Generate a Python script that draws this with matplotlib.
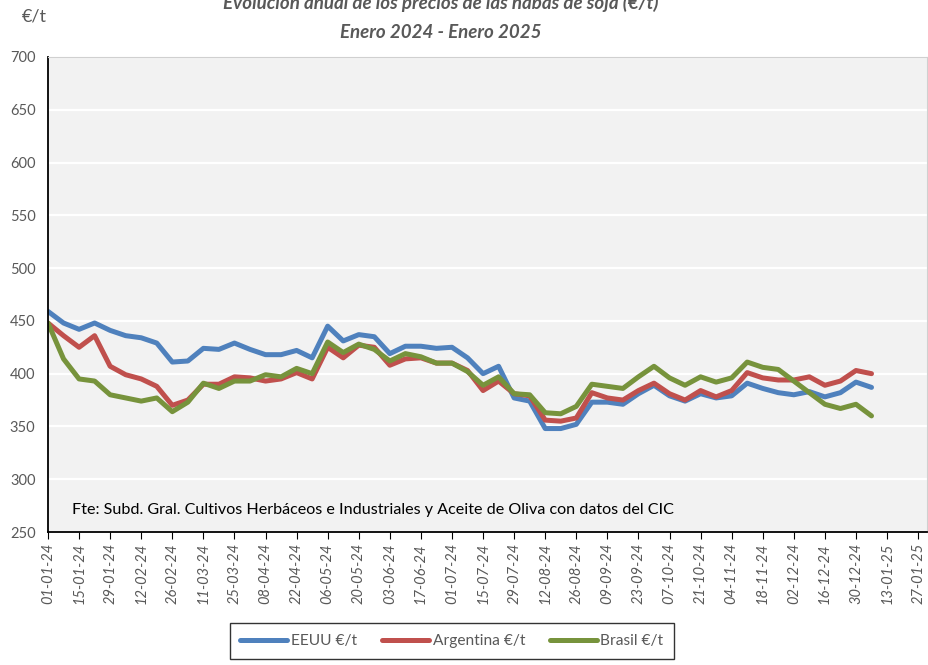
import numpy as np
import pandas as pd
import matplotlib
matplotlib.use('Agg')
import matplotlib.pyplot as plt

plt.rcParams['font.family'] = ['Lato', 'DejaVu Sans']

# weekly prices, €/t
fechas = pd.date_range('2024-01-01', periods=54, freq='7D')
eeuu = [459, 448, 442, 448, 441, 436, 434, 429, 411, 412, 424, 423, 429, 423, 418, 418,
        422, 415, 445, 431, 437, 435, 419, 426, 426, 424, 425, 415, 400, 407, 377, 374,
        348, 348, 352, 373, 373, 371, 381, 389, 379, 374, 381, 377, 379, 391, 386, 382,
        380, 383, 378, 382, 392, 387]
argentina = [448, 436, 425, 436, 407, 399, 395, 388, 370, 375, 390, 390, 397, 396, 393, 395,
             401, 395, 425, 415, 427, 425, 408, 414, 415, 410, 410, 403, 384, 393, 381, 379,
             356, 355, 358, 382, 377, 375, 384, 391, 381, 375, 384, 378, 384, 401, 396, 394,
             394, 397, 389, 393, 403, 400]
brasil = [448, 414, 395, 393, 380, 377, 374, 377, 364, 373, 391, 386, 393, 393, 399, 397,
          405, 400, 430, 420, 428, 423, 412, 419, 416, 410, 410, 402, 389, 397, 381, 380,
          363, 362, 369, 390, 388, 386, 397, 407, 396, 389, 397, 392, 396, 411, 406, 404,
          393, 382, 371, 367, 371, 360]

series = [('EEUU €/t', eeuu, '#4F81BD'),
          ('Argentina €/t', argentina, '#C0504D'),
          ('Brasil €/t', brasil, '#77933C')]

grey = '#595959'

fig = plt.figure(figsize=(9.29, 6.65), dpi=100)
ax = fig.add_axes([48 / 929, 1 - 532 / 665, 879 / 929, 475 / 665])
ax.set_facecolor('#F2F2F2')

for nombre, vals, color in series:
    ax.plot(fechas, vals, color=color, lw=3.6, label=nombre, solid_capstyle='round')

ax.set_ylim(250, 700)
ax.set_yticks(np.arange(250, 701, 50))
ax.yaxis.grid(True, color='white', lw=1.6)
ax.set_axisbelow(True)
ax.tick_params(axis='y', length=0, labelsize=10.5, labelcolor=grey, pad=9)

ax.set_xlim(pd.Timestamp('2024-01-01'), pd.Timestamp('2025-01-31'))
ticks = pd.date_range('2024-01-01', '2025-01-27', freq='14D')
ax.set_xticks(ticks)
ax.set_xticklabels([t.strftime('%d-%m-%y') for t in ticks], rotation=90,
                   fontsize=10.5, color=grey, style='italic')
ax.tick_params(axis='x', length=5, direction='out', color='black', pad=3)

for s in ['left', 'bottom']:
    ax.spines[s].set_color('black')
    ax.spines[s].set_linewidth(1.3)
for s in ['top', 'right']:
    ax.spines[s].set_color('#D0D0D0')
    ax.spines[s].set_linewidth(0.8)

ax.text(0.027, 0.046, 'Fte: Subd. Gral. Cultivos Herbáceos e Industriales y Aceite de Oliva con datos del CIC',
        transform=ax.transAxes, fontsize=11.6, color='black', va='center', ha='left')

fig.text(441 / 929, 1 - 3 / 665, 'Evolución anual de los precios de las habas de soja (€/t)',
         ha='center', va='center', fontsize=13.5, fontweight='bold', style='italic', color=grey)
fig.text(441 / 929, 1 - 32 / 665, 'Enero 2024 - Enero 2025',
         ha='center', va='center', fontsize=13.5, fontweight='bold', style='italic', color=grey)
fig.text(34 / 929, 1 - 16 / 665, '€/t', ha='center', va='center', fontsize=13, color=grey)

leg = fig.legend(loc='center', bbox_to_anchor=(452 / 929, 1 - 641 / 665), ncol=3,
                 frameon=True, fancybox=False, edgecolor='black', fontsize=11.2,
                 handlelength=3.0, columnspacing=1.6, handletextpad=0.25, borderpad=0.7)
leg.get_frame().set_linewidth(1.0)
for t in leg.get_texts():
    t.set_color(grey)

fig.savefig('out.png', dpi=100)
